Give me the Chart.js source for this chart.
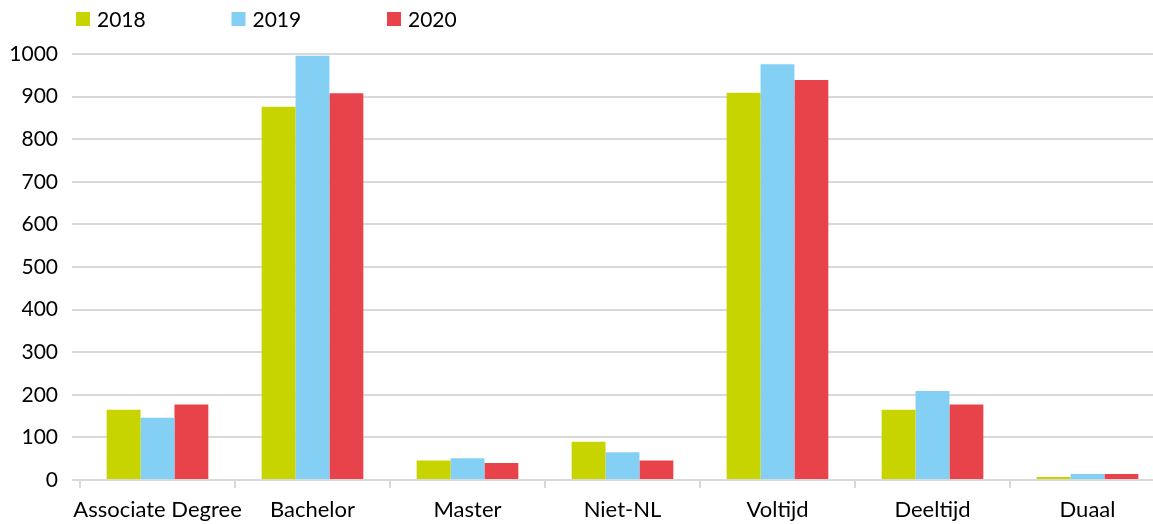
<!DOCTYPE html>
<html>
<head>
<meta charset="utf-8">
<script src="https://cdn.jsdelivr.net/npm/chart.js@4/dist/chart.umd.min.js"></script>
<style>
  html, body { margin: 0; padding: 0; background: #fff; overflow: hidden; }
</style>
</head>
<body>
<canvas id="chart" width="1168" height="524"></canvas>
<script>
// categories and values per year
var categories = ["Associate Degree", "Bachelor", "Master", "Niet-NL", "Voltijd", "Deeltijd", "Duaal"];
var years = ["2018", "2019", "2020"];
var values2018 = [165, 876, 46, 90, 909, 165, 7];
var values2019 = [146, 996, 51, 65, 976, 209, 14];
var values2020 = [177, 908, 40, 46, 939, 177, 14];
var yTicks = [0, 100, 200, 300, 400, 500, 600, 700, 800, 900, 1000];

var colors = ["#c8d400", "#84d0f5", "#e8434b"];
var gridColor = "#d9d9d9";
var fontFamily = "Lato, 'Open Sans', sans-serif";

// legend row drawn above the plot, one item per dataset
var legendRow = {
  id: 'legendRow',
  afterDraw: function(chart) {
    var ctx = chart.ctx;
    ctx.save();
    ctx.font = '21px ' + fontFamily;
    ctx.textBaseline = 'middle';
    ctx.textAlign = 'left';
    chart.data.datasets.forEach(function(ds, i) {
      var x = 76 + i * 155.5;
      ctx.fillStyle = ds.backgroundColor;
      ctx.fillRect(x, 12, 14, 14);
      ctx.fillStyle = '#000';
      ctx.fillText(ds.label, x + 21, 20);
    });
    ctx.restore();
  }
};

var ctx = document.getElementById("chart").getContext('2d');
var myChart = new Chart(ctx, {
  type: 'bar',
  data: {
    labels: categories,
    datasets: [
      { label: years[0], data: values2018, backgroundColor: colors[0], borderWidth: 0 },
      { label: years[1], data: values2019, backgroundColor: colors[1], borderWidth: 0 },
      { label: years[2], data: values2020, backgroundColor: colors[2], borderWidth: 0 }
    ]
  },
  options: {
    responsive: false,
    animation: false,
    layout: { padding: { top: 54, right: 3, left: 0, bottom: 0 } },
    datasets: {
      bar: { categoryPercentage: 0.656, barPercentage: 1.0 }
    },
    plugins: {
      legend: { display: false },
      tooltip: { enabled: false }
    },
    scales: {
      x: {
        offset: true,
        grid: {
          offset: true,
          drawOnChartArea: false,
          drawTicks: true,
          tickLength: 8,
          color: gridColor,
          lineWidth: 2
        },
        border: { display: true, color: gridColor, width: 2 },
        ticks: {
          color: '#000',
          font: { family: fontFamily, size: 22 },
          padding: 9,
          maxRotation: 0,
          autoSkip: false
        },
        afterFit: function(scale) { scale.height = 44; }
      },
      y: {
        min: 0,
        max: 1000,
        afterBuildTicks: function(scale) {
          scale.ticks = yTicks.map(function(v) { return { value: v }; });
        },
        grid: {
          color: gridColor,
          lineWidth: 2,
          drawTicks: true,
          tickLength: 8
        },
        border: { display: false },
        ticks: {
          color: '#000',
          font: { family: fontFamily, size: 21 },
          padding: 14,
          callback: function(value) { return String(value); }
        },
        afterFit: function(scale) { scale.width = 80; }
      }
    }
  },
  plugins: [legendRow]
});
</script>
</body>
</html>
